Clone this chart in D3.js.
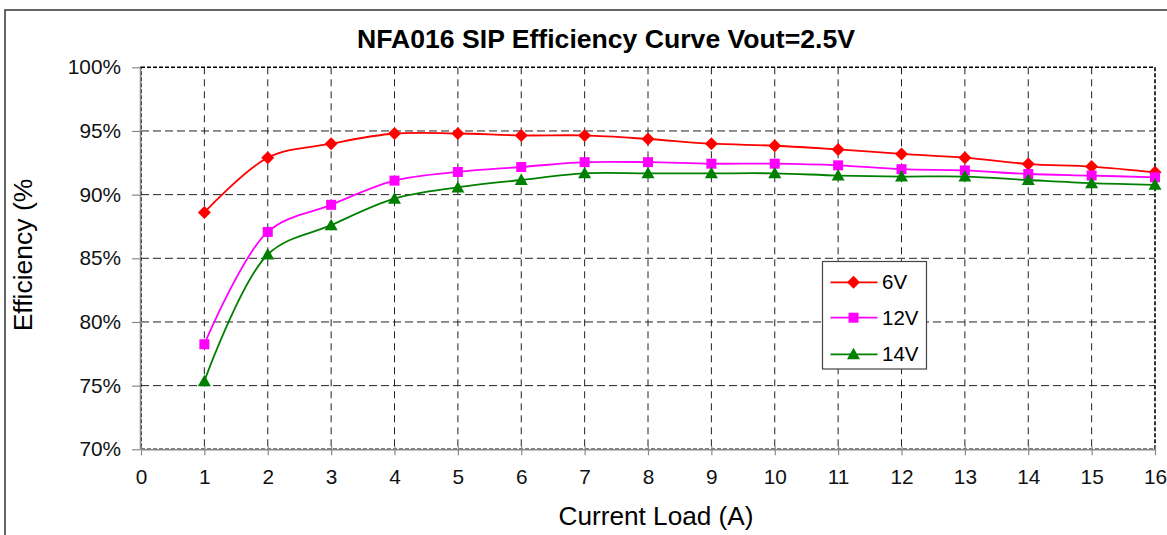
<!DOCTYPE html>
<html>
<head>
<meta charset="utf-8">
<script src="https://cdn.jsdelivr.net/npm/d3@7"></script>
<style>
  html, body { margin: 0; padding: 0; background: #fff; }
  svg { display: block; font-family: "Liberation Sans", Arial, sans-serif; }
</style>
</head>
<body>
<svg id="chart" width="1167" height="535"></svg>
<script>
// ---- data ----
const xTicks = [0,1,2,3,4,5,6,7,8,9,10,11,12,13,14,15,16];
const loads = [1,2,3,4,5,6,7,8,9,10,11,12,13,14,15,16];
const yTicks = [70,75,80,85,90,95,100];
const eff6V  = [88.6,92.9,94.0,94.8,94.8,94.65,94.65,94.37,94.0,93.84,93.55,93.2,92.9,92.4,92.2,91.75];
const eff12V = [78.25,87.07,89.2,91.1,91.78,92.17,92.55,92.55,92.43,92.43,92.3,92.0,91.9,91.62,91.5,91.36];
const eff14V = [75.35,85.3,87.6,89.68,90.57,91.15,91.67,91.67,91.67,91.67,91.5,91.42,91.42,91.15,90.9,90.77];
const seriesNames = ["6V","12V","14V"];
const titleText = "NFA016 SIP Efficiency Curve Vout=2.5V";
const xTitle = "Current Load (A)";
const yTitle = "Efficiency (%";

const series = [
  {name: seriesNames[0], values: eff6V,  color: "#FF0000", shape: "diamond"},
  {name: seriesNames[1], values: eff12V, color: "#FF00FF", shape: "square"},
  {name: seriesNames[2], values: eff14V, color: "#008000", shape: "triangle"}
];

const svg = d3.select("#chart");
const L = 141, R = 1155, T = 67.3, B = 449.3;

const x = d3.scaleLinear().domain([0,16]).range([L,R]);
const y = d3.scaleLinear().domain([70,100]).range([B,T]);

// outer border
svg.append("rect").attr("x",5).attr("y",10).attr("width",1175).attr("height",540)
  .attr("fill","none").attr("stroke","#333").attr("stroke-width",1.5);

// title
svg.append("text").attr("x",606).attr("y",48).attr("text-anchor","middle")
  .attr("font-size",26.6).attr("font-weight","bold").text(titleText);

// grid
const grid = svg.append("g");
grid.selectAll("line.v").data(xTicks.filter(d=>d>0 && d<16)).enter().append("line")
  .attr("x1",d=>x(d)).attr("x2",d=>x(d)).attr("y1",T).attr("y2",B)
  .attr("stroke","#222").attr("stroke-width",1).attr("stroke-dasharray","7,5");
grid.selectAll("line.h").data(yTicks.filter(d=>d>70 && d<100)).enter().append("line")
  .attr("x1",L).attr("x2",R).attr("y1",d=>y(d)).attr("y2",d=>y(d))
  .attr("stroke","#222").attr("stroke-width",1).attr("stroke-dasharray","8,4");

// plot frame (dashed)
svg.append("rect").attr("x",L).attr("y",T).attr("width",R-L).attr("height",B-T)
  .attr("fill","none").attr("stroke","#000").attr("stroke-width",1.6).attr("stroke-dasharray","4,2");

// axes
const yAxis = d3.axisLeft(y).tickValues(yTicks).tickFormat(d=>d+"%").tickSizeInner(8).tickSizeOuter(0).tickPadding(11);
const gy = svg.append("g").attr("transform",`translate(${L-1},0)`).call(yAxis);
gy.select(".domain").attr("stroke","#888").attr("stroke-width",1.5);
gy.selectAll(".tick line").attr("stroke","#888").attr("stroke-width",1.2);
gy.selectAll(".tick text").attr("font-size",20.8).attr("fill","#111")
  .attr("font-family","'Liberation Sans', Arial, sans-serif");

const xAxis = d3.axisBottom(x).tickValues(xTicks).tickFormat(d3.format("d")).tickSizeInner(6).tickSizeOuter(0).tickPadding(14);
const gx = svg.append("g").attr("transform",`translate(0,${B})`).call(xAxis);
gx.select(".domain").attr("stroke","#888").attr("stroke-width",1.5);
gx.selectAll(".tick line").attr("stroke","#888").attr("stroke-width",1.2).attr("y1",-3);
gx.selectAll(".tick text").attr("font-size",20.8).attr("fill","#111")
  .attr("font-family","'Liberation Sans', Arial, sans-serif");

// axis titles
svg.append("text").attr("x",656).attr("y",524.5).attr("text-anchor","middle")
  .attr("font-size",26.2).text(xTitle);
svg.append("text").attr("transform","translate(32,255) rotate(-90)").attr("text-anchor","middle")
  .attr("font-size",26.5).text(yTitle);

// marker helper
function marker(g, shape, color, cx, cy) {
  if (shape === "diamond") {
    g.append("path").attr("d",`M${cx},${cy-6.5}L${cx+6.5},${cy}L${cx},${cy+6.5}L${cx-6.5},${cy}Z`).attr("fill",color);
  } else if (shape === "square") {
    g.append("rect").attr("x",cx-5).attr("y",cy-5).attr("width",10).attr("height",10).attr("fill",color);
  } else {
    g.append("path").attr("d",`M${cx},${cy-6.5}L${cx+6.5},${cy+5}L${cx-6.5},${cy+5}Z`).attr("fill",color);
  }
}

// lines
const line = d3.line().x((d,i)=>x(loads[i])).y(d=>y(d)).curve(d3.curveCatmullRom.alpha(0.5));
series.forEach(s => {
  svg.append("path").datum(s.values).attr("d",line).attr("fill","none")
    .attr("stroke",s.color).attr("stroke-width",1.8);
});
series.forEach(s => {
  const g = svg.append("g");
  s.values.forEach((v,i) => marker(g, s.shape, s.color, x(loads[i]), y(v)));
});

// legend
const lg = svg.append("g");
lg.append("rect").attr("x",822.5).attr("y",261.5).attr("width",104).attr("height",107.5)
  .attr("fill","#fff").attr("stroke","#444").attr("stroke-width",1.2);
const legY = [282.3, 317.7, 354.3];
series.forEach((s,i) => {
  lg.append("line").attr("x1",830.5).attr("x2",877.5).attr("y1",legY[i]).attr("y2",legY[i])
    .attr("stroke",s.color).attr("stroke-width",1.8);
  marker(lg, s.shape, s.color, 853.5, legY[i]);
  lg.append("text").attr("x",882).attr("y",legY[i]+7).attr("font-size",20.5).text(s.name);
});
</script>
</body>
</html>
